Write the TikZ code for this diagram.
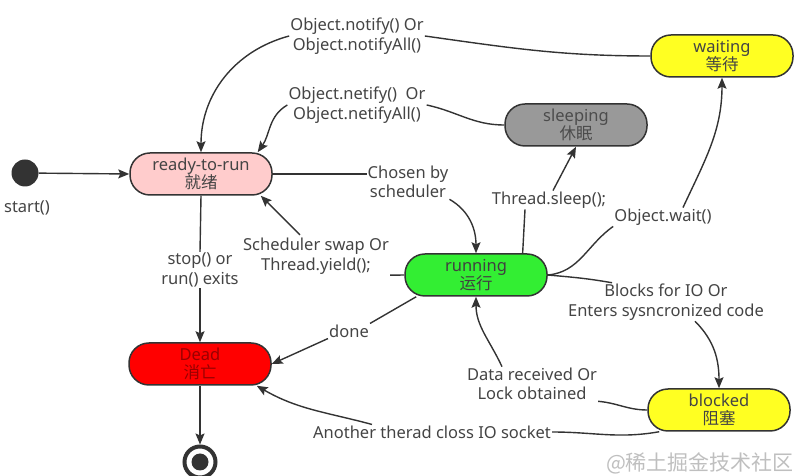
\documentclass[tikz,border=0pt]{standalone}
\usepackage{fontspec}
\setmainfont{Noto Sans}
\newfontfamily\cjk{Noto Sans CJK SC}
\usetikzlibrary{arrows.meta}
\usetikzlibrary{calc}
\definecolor{edgegray}{HTML}{333333}
\definecolor{textgray}{HTML}{444444}
\definecolor{readypink}{HTML}{FFCCCC}
\definecolor{waityellow}{HTML}{FFFF22}
\definecolor{sleepgray}{HTML}{999999}
\definecolor{rungreen}{HTML}{33EE33}
\definecolor{deadred}{HTML}{FF0000}

\begin{document}
\begin{tikzpicture}[x=1pt, y=1pt,
	state/.style={draw=edgegray, line width=1.5pt, rounded corners=20pt, minimum width=142pt, minimum height=42pt, align=center, inner sep=1pt, font=\fontsize{16.5}{18.5}\selectfont, text=textgray},
	lbl/.style={align=center, inner sep=1pt, font=\fontsize{16.5}{19.5}\selectfont, text=textgray},
	link/.style={draw=edgegray, line width=1.4pt},
	go/.style={link, -{Stealth[length=11pt, width=9pt, inset=2pt]}}]
	\useasboundingbox (0,0) rectangle (806,476);

	\node[circle, fill=edgegray, minimum size=27pt, inner sep=0pt] (start) at (25,303) {};
	\node[lbl] (startlbl) at (27,268) {start()};
	\node[state, fill=readypink] (ready) at (201,302) {ready-to-run\\{\cjk 就绪}};
	\node[state, fill=waityellow] (waiting) at (722,420) {waiting\\{\cjk 等待}};
	\node[state, fill=sleepgray, text=black!70] (sleeping) at (576,351) {sleeping\\{\cjk 休眠}};
	\node[state, fill=rungreen, text=black!75] (running) at (476,201) {running\\{\cjk 运行}};
	\node[state, fill=deadred, text=red!60!black] (dead) at (200,112) {Dead\\{\cjk 消亡}};
	\node[state, fill=waityellow] (blocked) at (719,66) {blocked\\{\cjk 阻塞}};
	\node[circle, draw=edgegray, line width=4pt, minimum size=31pt, inner sep=0pt] (end) at (200,14) {};
	\fill[edgegray] (end.center) circle (8.5);

	\node[lbl] (notifylbl) at (357,440) {Object.notify() Or\\Object.notifyAll()};
	\node[lbl] (netifylbl) at (357,371) {Object.netify()\ \ Or\\Object.netifyAll()};
	\node[lbl] (chosenlbl) at (408,294) {Chosen by\\scheduler};
	\node[lbl] (swaplbl) at (316,220) {Scheduler swap Or\\Thread.yield();};
	\node[lbl] (stoplbl) at (200,206) {stop() or\\run() exits};
	\node[lbl] (donelbl) at (349,145) {done};
	\node[lbl] (sleeplbl) at (549,276) {Thread.sleep();};
	\node[lbl] (waitlbl) at (663,259) {Object.wait()};
	\node[lbl] (blockslbl) at (666,174) {Blocks for IO Or\\Enters sysncronized code};
	\node[lbl] (datalbl) at (532,92) {Data received Or\\Lock obtained};
	\node[lbl] (anotherlbl) at (432,44) {Another therad closs IO socket};
	\node[font=\fontsize{21}{24}\selectfont, text=black!25] (mark) at (700,13) {\cjk @稀土掘金技术社区};

	\draw[go] (start) -- (ready.west);
	\draw[link] (waiting.west) to[out=180, in=-8] (notifylbl.east);
	\draw[go] (notifylbl.west) to[out=195, in=90] (ready.north);
	\draw[link] (sleeping.west) to[out=180, in=-12] (netifylbl.east);
	\draw[go] (netifylbl.west) to[out=210, in=55] (ready.21);
	\draw[link] (ready.east) -- (ready.east -| chosenlbl.west);
	\draw[go] (chosenlbl.south east) to[out=-30, in=90] (running.north);
	\draw[link] (running.west) -- (swaplbl.south east);
	\draw[go] ($(swaplbl.north)+(-16,2)$) -- (ready.-20);
	\draw[link] (ready.south) -- (stoplbl.north);
	\draw[go] (stoplbl.south) -- (dead.north);
	\draw[link] (running.-160) -- (donelbl.north east);
	\draw[go] (donelbl.south west) -- (dead.east);
	\draw[link] (running.25) -- ($(sleeplbl.south)+(-24,0)$);
	\draw[go] ($(sleeplbl.north)+(4,0)$) -- (sleeping.south);
	\draw[link] (running.east) to[out=5, in=-145] (waitlbl.south west);
	\draw[go] ($(waitlbl.north)+(20,0)$) to[out=65, in=-90] (waiting.south);
	\draw[link] (running.east) to[out=-5, in=170] ($(blockslbl.north)+(-54,0)$);
	\draw[go] ($(blockslbl.south)+(29,0)$) to[out=-45, in=90] (blocked.north);
	\draw[link] (blocked.west) to[out=180, in=-5] (datalbl.south east);
	\draw[go] ($(datalbl.north)+(-30,0)$) to[out=115, in=-90] (running.south);
	\draw[link] (blocked.-160) to[out=190, in=0] (anotherlbl.east);
	\draw[go] ($(anotherlbl.north)+(-60,0)$) to[out=165, in=-30] (dead.-21);
	\draw[go] (dead.south) -- (end);
\end{tikzpicture}
\end{document}
